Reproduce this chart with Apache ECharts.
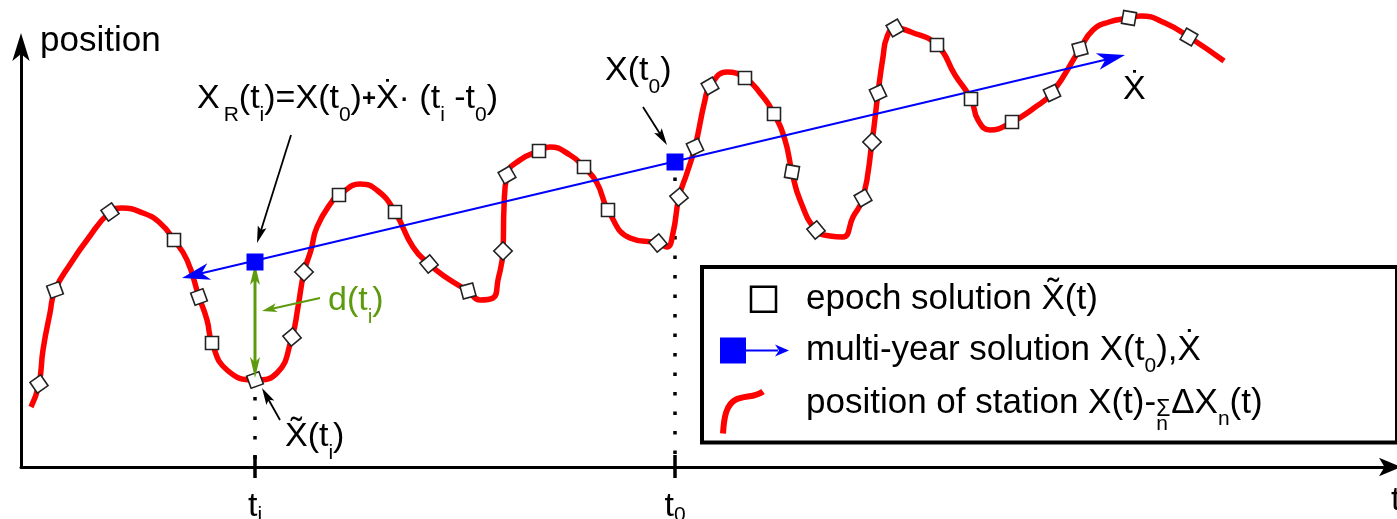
<!DOCTYPE html>
<html>
<head>
<meta charset="utf-8">
<script src="https://cdn.jsdelivr.net/npm/echarts@6/dist/echarts.min.js"></script>
<style>html,body{margin:0;padding:0;background:#fff}#c{width:1397px;height:519px}</style>
</head>
<body>
<div id="c"></div>
<script>
// ---------------- data (x = time, y = position) ----------------
const curvePoints = [
  [1.0,6.0],[1.8,8.3],[2.2,11.7],[2.9,15.4],[3.4,17.7],[5.0,20.4],[6.6,22.7],[8.9,25.5],[10.1,25.9],
  [12.2,25.4],[13.9,24.4],[15.3,22.7],[16.6,20.7],[17.8,17.0],[18.6,14.7],[19.1,12.4],[20.6,9.7],
  [23.4,8.7],[25.6,9.4],[27.1,13.0],[27.7,16.0],[28.3,19.5],[29.0,21.7],[29.6,24.0],[31.2,26.7],
  [31.8,27.2],[33.9,28.3],[35.7,27.6],[37.4,25.5],[39.2,22.0],[40.8,20.3],[42.6,18.9],[44.7,17.6],
  [45.9,16.7],[47.2,16.9],[47.7,18.7],[48.2,21.6],[48.3,26.0],[48.6,29.2],[49.9,30.7],[51.8,31.6],
  [52.9,32.0],[54.9,31.2],[56.3,30.0],[57.6,28.4],[58.7,25.7],[60.9,22.9],[63.7,22.4],[64.6,22.0],
  [65.2,23.4],[65.8,27.0],[66.6,29.4],[67.4,32.0],[68.4,36.7],[68.9,38.1],[70.6,39.5],[72.4,38.9],
  [73.9,37.4],[75.3,35.3],[76.4,32.7],[77.1,29.5],[77.9,26.7],[79.5,23.7],[80.9,23.1],[82.2,23.0],
  [83.2,25.0],[84.2,26.9],[85.1,32.5],[85.7,37.4],[86.2,41.0],[86.6,43.0],[87.4,43.9],[89.0,43.5],
  [91.6,42.2],[93.4,39.2],[95.0,36.8],[95.7,34.7],[96.9,33.7],[99.1,34.5],[101.3,35.9],[103.1,37.4],
  [105.9,41.8],[107.2,43.7],[108.8,44.5],[110.8,44.9],[112.0,45.1],[114.4,44.4],[116.8,43.0],[120.3,40.6]
];
const epochPoints = [
  [1.8,8.3],[3.4,17.7],[8.9,25.5],[15.3,22.7],[17.8,17.0],[19.1,12.4],[23.4,8.7],[27.1,13.0],[28.3,19.5],
  [31.8,27.2],[37.4,25.5],[40.8,20.3],[44.7,17.6],[48.2,21.6],[48.6,29.2],[51.8,31.6],[56.3,30.0],
  [58.7,25.7],[63.7,22.4],[65.8,27.0],[67.4,32.0],[68.9,38.1],[72.4,38.9],[75.3,35.3],[77.1,29.5],
  [79.5,23.7],[84.2,26.9],[85.1,32.5],[85.7,37.4],[87.4,43.9],[91.6,42.2],[95.0,36.8],[99.1,34.5],
  [103.1,37.4],[105.9,41.8],[110.8,44.9],[116.8,43.0]
];
const epochTilt = [35,20,35,0,20,0,20,40,45,0,0,40,15,45,30,0,0,0,40,40,25,30,0,0,-10,40,30,45,25,30,0,0,0,25,15,-10,-30];
const multiYearPoints = [[23.4,20.5],[65.4,30.5]];
const velocityArrow = [[16.1,18.9,110.4,41.2]];
const residualArrow = [[23.4,20.3,23.4,8.9]];
const residualPointer = [[29.9,16.9,24.1,15.6]];
const labelPointers = [[27.0,33.2,23.6,22.4],[62.2,36.0,64.6,32.2],[25.9,4.7,24.1,7.9]];
const guideLines = [[23.4,0.8,23.4,7.0],[65.4,1.3,65.4,29.0]];
const tickValues = [23.4, 65.4];
const tickLabels = ['t{s|i}', 't{s|0}'];
const noteAnchors = [[17.6,36.8],[58.4,39.6],[110.2,37.7],[30.7,16.6],[26.4,3.0]];
const noteTexts = [
  'X{sR|R}(t{s|i})=X(t{s|0}){p|+}\u1E8A\u00B7 (t{s|i} -t{s|0})',
  'X(t{s|0})',
  '\u1E8A',
  'd(t{s|i})',
  'X\u0303(t{s|i})'
];
const legendNames = ['epoch', 'multi-year', 'position'];
const legendTexts = [
  'epoch solution X\u0303(t)',
  'multi-year solution X(t{s|0}),\u1E8A',
  'position of station X(t)-{sg|\u03A3}{sn|n}\u0394X{s|n}(t)'
];

// ---------------- styling ----------------
const FONT = '"Liberation Sans", Arial, Helvetica, sans-serif';
const RED = '#ff0000', BLUE = '#0000ff', GREEN = '#5e9a0e', BLACK = '#000000';
const noteColors = [BLACK, BLACK, BLACK, GREEN, BLACK];

function head(tip, from, o) {
  const dx = tip[0] - from[0], dy = tip[1] - from[1];
  const len = Math.hypot(dx, dy) || 1;
  const ux = dx / len, uy = dy / len, px = -uy, py = ux;
  const bx = tip[0] - ux * o.L, by = tip[1] - uy * o.L;
  const nx = tip[0] - ux * o.L * o.notch, ny = tip[1] - uy * o.L * o.notch;
  return {
    poly: {type: 'polygon', shape: {points: [[tip[0], tip[1]], [bx + px * o.W / 2, by + py * o.W / 2], [nx, ny], [bx - px * o.W / 2, by - py * o.W / 2]]}, style: {fill: o.color}},
    neck: [nx + ux, ny + uy]
  };
}
function segmentSeries(name, data, o) {
  return {
    type: 'custom', name: name, coordinateSystem: 'cartesian2d', data: data, clip: false, silent: true, z: o.z,
    encode: {x: [0, 2], y: [1, 3]},
    renderItem: function (params, api) {
      const a = api.coord([api.value(0), api.value(1)]);
      const b = api.coord([api.value(2), api.value(3)]);
      const children = [];
      let s = a, e = b;
      if (o.end) { const h = head(b, a, o); children.push(h.poly); e = h.neck; }
      if (o.start) { const h = head(a, b, o); children.push(h.poly); s = h.neck; }
      children.unshift({type: 'line', shape: {x1: s[0], y1: s[1], x2: e[0], y2: e[1]},
        style: {stroke: o.color, lineWidth: o.width, lineDash: o.dash || null, fill: null}});
      return {type: 'group', children: children};
    }
  };
}

const zrRich = {
  s: {fontSize: 21, fontFamily: FONT, lineHeight: 21, padding: [32, 0, 0, 0]},
  sR: {fontSize: 21, fontFamily: FONT, lineHeight: 21, padding: [32, 0, 0, 4]},
  p: {fontSize: 24, fontFamily: FONT, fontWeight: 'bold', lineHeight: 24}
};

const chart = echarts.init(document.getElementById('c'), null, {renderer: 'canvas'});
chart.setOption({
  animation: false,
  backgroundColor: '#ffffff',
  textStyle: {fontFamily: FONT},
  grid: {left: 21, right: 8, top: 51, bottom: 52, containLabel: false, outerBoundsMode: 'none'},
  xAxis: {
    type: 'value', min: 0, max: 136.8,
    axisLine: {show: true, onZero: false, symbol: ['none', 'arrow'], symbolSize: [14, 22], symbolOffset: [0, 12],
      lineStyle: {color: BLACK, width: 3}},
    axisTick: {show: false}, splitLine: {show: false},
    axisLabel: {
      show: true, customValues: tickValues, margin: 12, color: BLACK, fontSize: 34, fontFamily: FONT, lineHeight: 56,
      formatter: function (v) { const i = tickValues.indexOf(v); return i >= 0 ? tickLabels[i] : ''; },
      rich: {s: {fontSize: 21, fontFamily: FONT, lineHeight: 21, padding: [16, 0, 0, 0], color: BLACK}}
    },
    name: '{t|t}', nameLocation: 'end', nameGap: 2, nameMoveOverlap: false,
    nameTextStyle: {color: BLACK, fontSize: 34, fontFamily: FONT, align: 'left', verticalAlign: 'top',
      rich: {t: {fontSize: 34, fontFamily: FONT, color: BLACK, lineHeight: 34, padding: [34, 0, 0, 0]}}}
  },
  yAxis: {
    type: 'value', min: 0, max: 41.6,
    axisLine: {show: true, onZero: false, symbol: ['none', 'arrow'], symbolSize: [13, 28], symbolOffset: [0, 18],
      lineStyle: {color: BLACK, width: 3}},
    axisTick: {show: false}, splitLine: {show: false}, axisLabel: {show: false},
    name: 'position', nameLocation: 'end', nameGap: 10, nameMoveOverlap: false,
    nameTextStyle: {color: BLACK, fontSize: 35, fontFamily: FONT, align: 'left', verticalAlign: 'middle', padding: [0, 0, 0, 19]}
  },
  legend: {
    show: true, orient: 'vertical', left: 702, top: 267, selectedMode: false,
    padding: [0, 4, 5, 13], itemWidth: 83, itemHeight: 62, itemGap: -12,
    borderColor: BLACK, borderWidth: 4, backgroundColor: '#ffffff',
    textStyle: {
      color: BLACK, fontSize: 35, fontFamily: FONT, lineHeight: 62, width: 587,
      rich: {
        s: {fontSize: 21, fontFamily: FONT, lineHeight: 21, padding: [32, 0, 0, 0], color: BLACK},
        sg: {fontSize: 23, fontFamily: FONT, lineHeight: 23, padding: [12, 0, 0, 0], width: 0.01, color: BLACK},
        sn: {fontSize: 21, fontFamily: FONT, lineHeight: 21, padding: [41, 0, 0, 0], width: 15, color: BLACK}
      }
    },
    formatter: function (name) { return legendTexts[legendNames.indexOf(name)]; },
    data: [
      {name: 'epoch', icon: 'path://M0,0M83,62M33,18.5L58,18.5L58,43.5L33,43.5Z',
        itemStyle: {color: '#ffffff', borderColor: BLACK, borderWidth: 2.5}},
      {name: 'multi-year', icon: 'path://M0,0M83,62M2,18L28,18L28,44L2,44ZM28,30L60,30L60,32L28,32ZM57,25L71,31L57,37L61,31Z',
        itemStyle: {color: BLUE, borderWidth: 0}},
      {name: 'position', icon: 'path://M0,0M83,62M5,61C6,45 8,32 18,27C27,23 37,25 45,19',
        itemStyle: {color: 'none', borderColor: RED, borderWidth: 6}}
    ]
  },
  series: [
    segmentSeries('guides', guideLines, {color: BLACK, width: 3.5, dash: [3.5, 16], z: 1}),
    {
      type: 'custom', name: 'ticks', coordinateSystem: 'cartesian2d', data: tickValues.map(v => [v, 0]), clip: false, silent: true, z: 3,
      renderItem: function (params, api) {
        const p = api.coord([api.value(0), api.value(1)]);
        return {type: 'line', shape: {x1: p[0], y1: p[1] - 12, x2: p[0], y2: p[1] + 11}, style: {stroke: BLACK, lineWidth: 3.5}};
      }
    },
    {
      type: 'line', name: 'position', data: curvePoints, smooth: 0.5, showSymbol: false, symbol: 'none',
      clip: false, silent: true, z: 2, lineStyle: {color: RED, width: 5.5, join: 'round'}, itemStyle: {color: RED}
    },
    segmentSeries('multi-year', velocityArrow, {color: BLUE, width: 2, start: true, end: true, L: 28, W: 17, notch: 0.72, z: 3}),
    {
      type: 'scatter', name: 'epoch', clip: false, silent: true, z: 4, symbol: 'rect', symbolSize: 13,
      data: epochPoints.map((p, i) => ({value: p, symbolRotate: epochTilt[i]})),
      itemStyle: {color: '#ffffff', borderColor: '#222222', borderWidth: 1.6, opacity: 1}
    },
    segmentSeries('residual', residualArrow, {color: GREEN, width: 3, start: true, end: true, L: 21, W: 10, notch: 0.75, z: 6}),
    segmentSeries('residual-pointer', residualPointer, {color: GREEN, width: 2, end: true, L: 15, W: 9, notch: 0.75, z: 6}),
    segmentSeries('pointers', labelPointers, {color: BLACK, width: 1.8, end: true, L: 17, W: 9, notch: 0.8, z: 6}),
    {
      type: 'scatter', name: 'multi-year', clip: false, silent: true, z: 7, symbol: 'rect', symbolSize: 17,
      data: multiYearPoints, itemStyle: {color: BLUE, opacity: 1}
    },
    {
      type: 'custom', name: 'notes', coordinateSystem: 'cartesian2d', data: noteAnchors, clip: false, silent: true, z: 8,
      renderItem: function (params, api) {
        const p = api.coord([api.value(0), api.value(1)]);
        const i = params.dataIndex;
        return {type: 'text', x: p[0], y: p[1], style: {text: noteTexts[i], fill: noteColors[i], fontSize: 34, fontFamily: FONT,
          align: 'left', verticalAlign: 'middle', rich: zrRich}};
      }
    }
  ]
});
</script>
</body>
</html>
